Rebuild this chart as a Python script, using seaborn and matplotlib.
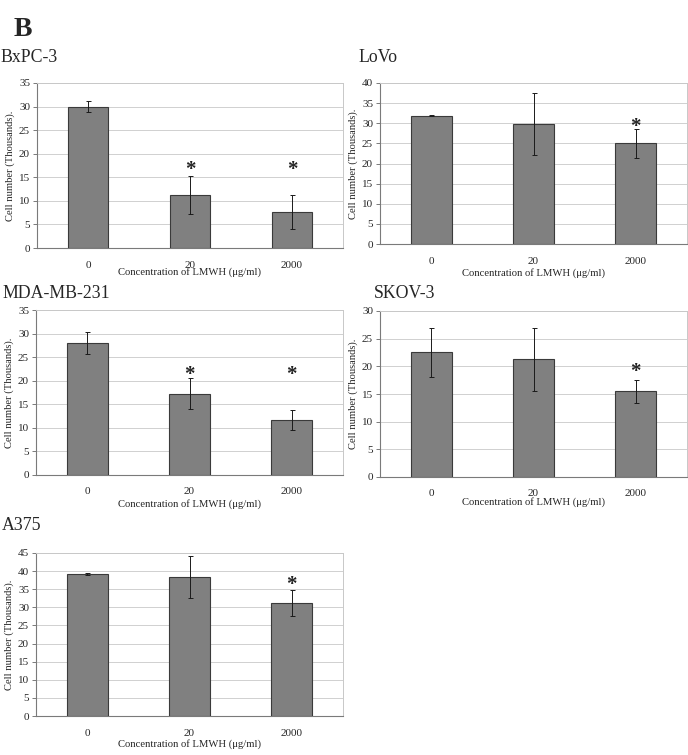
import matplotlib
matplotlib.use("Agg")
import matplotlib.pyplot as plt
import seaborn as sns
import pandas as pd
import numpy as np

sns.set_style("white")
plt.rcParams['font.family'] = ['Liberation Serif', 'DejaVu Serif']

doses = ["0", "20", "2000"]
cell_lines = ["BxPC-3", "LoVo", "MDA-MB-231", "SKOV-3", "A375"]

bxpc3_mean = [30.0, 11.3, 7.6]
bxpc3_err = [1.2, 4.0, 3.6]
bxpc3_star = [None, 16.5, 16.5]

lovo_mean = [31.9, 29.8, 25.0]
lovo_err = [0.1, 7.7, 3.6]
lovo_star = [None, None, 29.0]

mda_mean = [28.0, 17.2, 11.7]
mda_err = [2.4, 3.3, 2.1]
mda_star = [None, 21.3, 21.3]

skov3_mean = [22.5, 21.3, 15.5]
skov3_err = [4.4, 5.7, 2.1]
skov3_star = [None, None, 19.0]

a375_mean = [39.1, 38.5, 31.2]
a375_err = [0.3, 5.8, 3.7]
a375_star = [None, None, 36.3]

ymaxes = [35, 40, 35, 30, 45]
ysteps = [5, 5, 5, 5, 5]

means = [bxpc3_mean, lovo_mean, mda_mean, skov3_mean, a375_mean]
errs = [bxpc3_err, lovo_err, mda_err, skov3_err, a375_err]
stars = [bxpc3_star, lovo_star, mda_star, skov3_star, a375_star]

W, H = 688, 755
fig = plt.figure(figsize=(W / 100, H / 100), dpi=100)

# (left, right, top, bottom) in pixels
boxes = [(37, 343, 83, 248), (380, 687, 83, 244), (36, 343, 310, 475),
         (380, 687, 311, 477), (36, 343, 553, 716)]
titles_pos = [(0, 57), (358, 57), (2, 293), (374, 293), (2, 525)]
xlabel_pad = [-1.5, 2.0, 1.5, -1.0, 1.0]

fig.text(14 / W, 1 - 29 / H, "B", fontsize=20, fontweight="bold", va="center", ha="left")

for i, name in enumerate(cell_lines):
    l, r, t, b = boxes[i]
    ax = fig.add_axes([l / W, 1 - b / H, (r - l) / W, (b - t) / H])
    df = pd.DataFrame({"dose": doses, "cells": means[i]})
    sns.barplot(data=df, x="dose", y="cells", ax=ax, color="#808080",
                saturation=1, width=0.4, edgecolor="#3a3a3a", linewidth=0.8,
                errorbar=None, zorder=3)
    ax.errorbar(np.arange(3), means[i], yerr=errs[i], fmt="none",
                ecolor="#1a1a1a", elinewidth=0.7, capsize=1.8, capthick=0.7, zorder=4)
    for j, s in enumerate(stars[i]):
        if s is not None:
            ax.text(j, s, "*", ha="center", va="center", fontsize=15,
                    fontweight="bold", color="#222222", zorder=5)
    ax.set_xlim(-0.5, 2.5)
    ax.set_ylim(0, ymaxes[i])
    ax.set_yticks(np.arange(0, ymaxes[i] + 0.1, ysteps[i]))
    ax.yaxis.grid(True, color="#d0d0d0", linewidth=0.7, zorder=0)
    ax.set_axisbelow(True)
    for sp in ["top", "right"]:
        ax.spines[sp].set_color("#c8c8c8")
        ax.spines[sp].set_linewidth(0.7)
    for sp in ["left", "bottom"]:
        ax.spines[sp].set_color("#7a7a7a")
        ax.spines[sp].set_linewidth(0.8)
    ax.tick_params(axis="x", length=0, labelsize=8, pad=9)
    ax.set_xticks([0.5, 1.5], minor=True)
    ax.tick_params(axis="x", which="minor", length=3, color="#7a7a7a", width=0.7)
    ax.tick_params(axis="y", length=3, color="#7a7a7a", width=0.7, labelsize=8, pad=2, left=True)
    ax.set_xlabel("Concentration of LMWH (μg/ml)", fontsize=7.7, labelpad=xlabel_pad[i])
    ax.set_ylabel("Cell number (Thousands).", fontsize=7.6, labelpad=3)
    tx, ty = titles_pos[i]
    fig.text(tx / W, 1 - ty / H, name, fontsize=12.8, va="center", ha="left")

fig.savefig("out.png", dpi=100)
